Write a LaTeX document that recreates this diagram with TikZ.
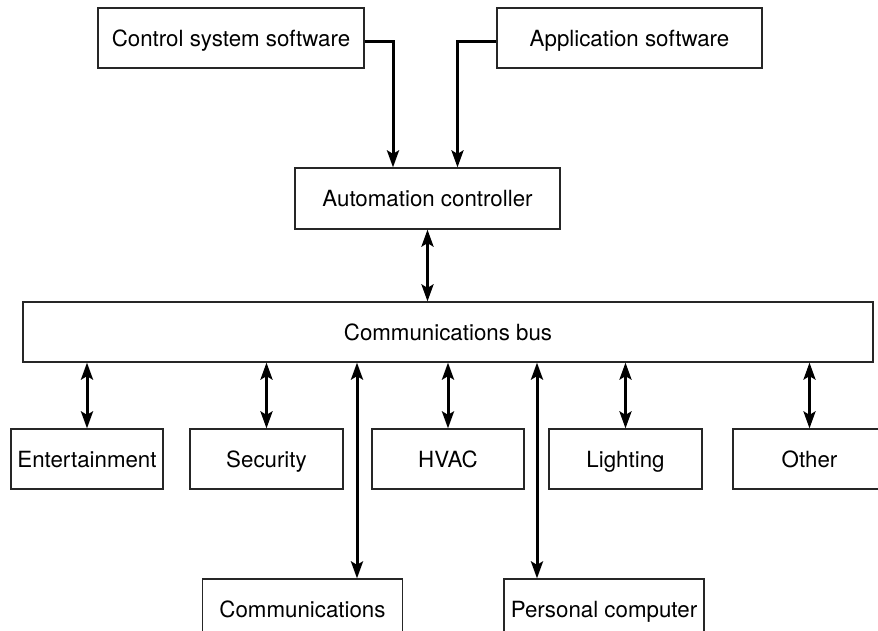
\documentclass[tikz,border=0pt]{standalone}
\usepackage{fontspec}
\setmainfont{TeX Gyre Heros}
\usetikzlibrary{arrows.meta,positioning}

\begin{document}
\begin{tikzpicture}[x=1pt, y=-1pt,
		box/.style={draw=black!85, line width=1.2pt, minimum height=60pt, inner sep=0pt, text height=18pt, text depth=1pt, font=\fontsize{22.3}{26}\selectfont},
		link/.style={line width=3pt, -{Stealth[length=17pt,width=12pt,inset=3.5pt]}},
		duplex/.style={line width=3pt, {Stealth[length=17pt,width=12pt,inset=3.5pt]}-{Stealth[length=17pt,width=12pt,inset=3.5pt]}}]
				\useasboundingbox (0,0) rectangle (878,631);
				\clip (0,0) rectangle (878,631);
				\node[box, minimum width=266pt] (csw) at (231,38) {Control system software};
				\node[box, minimum width=265pt] (app) at (629.5,38) {Application software};
				\node[box, minimum width=265pt, minimum height=61pt] (ctrl) at (427.5,198.5) {Automation controller};
				\node[box, minimum width=850pt] (bus) at (448,332) {Communications bus};
				\node[box, minimum width=152pt] (ent) at (87,459) {Entertainment};
				\node[box, minimum width=153pt] (sec) at (266.5,459) {Security};
				\node[box, minimum width=152pt] (hvac) at (448,459) {HVAC};
				\node[box, minimum width=153pt] (light) at (625.5,459) {Lighting};
				\node[box, minimum width=153pt] (other) at (809.5,459) {Other};
				\node[box, minimum width=200pt] (comm) at (302.5,609) {Communications};
				\node[box, minimum width=200pt] (pc) at (604,609) {Personal computer};
				\coordinate (csin) at ([xshift=-34.5pt]ctrl.north);
				\coordinate (apin) at ([xshift=30pt]ctrl.north);
				\coordinate (commin) at ([xshift=54.5pt]comm.north);
				\coordinate (pcin) at ([xshift=-67pt]pc.north);
				\draw[link] ([yshift=-3.5pt]csw.east) -| (csin);
				\draw[link] ([yshift=-3.5pt]app.west) -| (apin);
				\draw[duplex] (ctrl.south) -- (ctrl.south |- bus.north);
				\foreach \n in {ent,sec,hvac,light,other}
					\draw[duplex] (\n.north |- bus.south) -- (\n.north);
				\draw[duplex] (commin |- bus.south) -- (commin);
				\draw[duplex] (pcin |- bus.south) -- (pcin);
			\end{tikzpicture}
\end{document}
